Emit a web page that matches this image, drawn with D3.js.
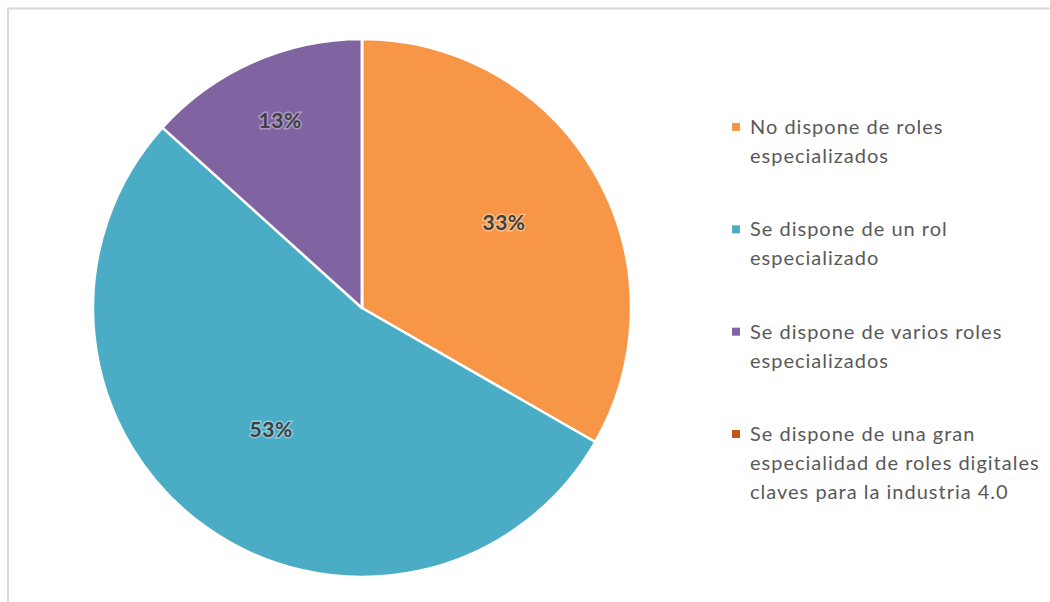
<!DOCTYPE html>
<html><head><meta charset="utf-8">
<script src="https://cdn.jsdelivr.net/npm/d3@7"></script>
<style>body{margin:0;background:#fff;} svg{display:block;}</style>
</head><body>
<script>
const categories = [
  "No dispone de roles especializados",
  "Se dispone de un rol especializado",
  "Se dispone de varios roles especializados",
  "Se dispone de una gran especialidad de roles digitales claves para la industria 4.0"
];
const legendLines = [
  ["No dispone de roles", "especializados"],
  ["Se dispone de un rol", "especializado"],
  ["Se dispone de varios roles", "especializados"],
  ["Se dispone de una gran", "especialidad de roles digitales", "claves para la industria 4.0"]
];
const values = [33.3, 53.4, 13.3, 0];
const labels = ["33%", "53%", "13%", ""];
const colors = ["#F79646", "#4BACC6", "#8064A2", "#C0581B"];
const glowColors = ["#FBC79B", "#9FD3E2", "#B7A4CE", "#E0A07A"];
const labelRadiusRatio = [0.61, 0.575, 0.75, 0.6];

const W = 1050, H = 602;
const svg = d3.select("body").append("svg").attr("width", W).attr("height", H);

// chart border
svg.append("path").attr("d", `M8,${H} L8,8.5 L${W},8.5`)
  .attr("fill", "none").attr("stroke", "#d9d9d9").attr("stroke-width", 2);

const cx = 362, cy = 308, R = 269;
const g = svg.append("g").attr("transform", `translate(${cx},${cy})`);
const pie = d3.pie().sort(null).value(d => d);
const arcs = pie(values);
const arc = d3.arc().innerRadius(0).outerRadius(R);

g.selectAll("path.slice").data(arcs).enter().append("path")
  .attr("class", "slice")
  .attr("d", arc)
  .attr("fill", (d, i) => colors[i])
  .attr("stroke", "#fff").attr("stroke-width", 2.5).attr("stroke-linejoin", "round");

g.selectAll("text.lbl").data(arcs).enter().append("text")
  .attr("class", "lbl")
  .attr("transform", (d, i) => {
    const r = R * labelRadiusRatio[i];
    const c = d3.arc().innerRadius(r).outerRadius(r).centroid(d);
    return `translate(${c[0]},${c[1]})`;
  })
  .attr("text-anchor", "middle").attr("dy", "0.2em")
  .attr("font-family", "Lato, 'Open Sans', sans-serif")
  .attr("font-weight", "bold").attr("font-size", 21)
  .attr("letter-spacing", 0.5)
  .attr("fill", "#404040")
  .attr("stroke", (d, i) => glowColors[i]).attr("stroke-width", 3).attr("stroke-opacity", 0.8)
  .attr("paint-order", "stroke")
  .text((d, i) => labels[i]);

// legend
const legendY = d3.scalePoint().domain(d3.range(categories.length)).range([127, 434]);
const lineH = 29;
const lg = svg.append("g");
categories.forEach((c, i) => {
  const y0 = legendY(i);
  lg.append("rect").attr("x", 732).attr("y", y0 - 4).attr("width", 8).attr("height", 8).attr("fill", colors[i]);
  legendLines[i].forEach((t, j) => {
    lg.append("text").attr("x", 750).attr("y", y0 + j * lineH).attr("dy", "0.35em")
      .attr("font-family", "Lato, 'Open Sans', sans-serif").attr("font-size", 20)
      .attr("fill", "#595959").attr("letter-spacing", 1)
      .text(t);
  });
});
</script>
</body></html>
